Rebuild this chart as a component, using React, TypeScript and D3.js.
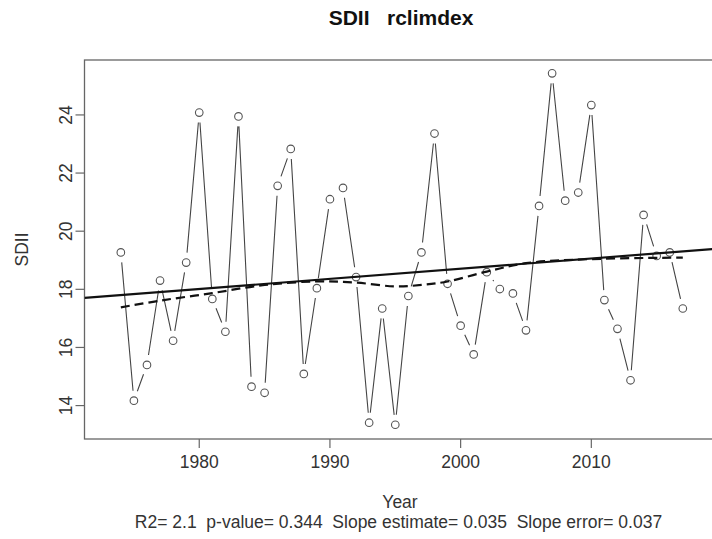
import React from "react";
import * as d3 from "d3";

const years = d3.range(1974, 2018);
const sdii = [
  19.27, 14.17, 15.40, 18.30, 16.23, 18.92, 24.08, 17.67, 16.54, 23.95,
  14.65, 14.44, 21.56, 22.83, 15.09, 18.04, 21.10, 21.49, 18.42, 13.41,
  17.34, 13.34, 17.77, 19.27, 23.36, 18.19, 16.75, 15.76, 18.59, 18.01,
  17.86, 16.59, 20.87, 25.43, 21.05, 21.33, 24.34, 17.63, 16.64, 14.87,
  20.56, 19.15, 19.27, 17.34,
];
const lowessYears = [1974, 1977, 1981, 1985, 1989, 1992, 1995, 1997, 1999, 2002, 2005, 2010, 2017];
const lowessValues = [17.38, 17.61, 17.87, 18.15, 18.27, 18.23, 18.10, 18.15, 18.27, 18.61, 18.90, 19.04, 19.09];
const trendIntercept1974 = 17.80;
const trendSlope = 0.035;
const xTicks = [1980, 1990, 2000, 2010];
const yTicks = [14, 16, 18, 20, 22, 24];
const titleText = "SDII   rclimdex";
const statsText = "R2= 2.1  p-value= 0.344  Slope estimate= 0.035  Slope error= 0.037";

const W = 712, H = 539;
const L = 84.5, R = 716, T = 60, B = 439;
const FONT = "'Liberation Sans', Arial, Helvetica, sans-serif";
const FS = 17.5;

export default function App() {
  const x = d3.scaleLinear().domain([1971.22, 2019.54]).range([L, R]);
  const y = d3.scaleLinear().domain([12.85, 25.89]).range([B, T]);
  const pts = years.map((yr, i) => [x(yr), y(sdii[i])] as [number, number]);
  const gap = 10;
  const segs: string[] = [];
  for (let i = 0; i < pts.length - 1; i++) {
    const [x0, y0] = pts[i];
    const [x1, y1] = pts[i + 1];
    const dx = x1 - x0, dy = y1 - y0;
    const d = Math.hypot(dx, dy);
    if (d <= 2 * gap) continue;
    const ux = dx / d, uy = dy / d;
    segs.push(`M${x0 + ux * gap},${y0 + uy * gap}L${x1 - ux * gap},${y1 - uy * gap}`);
  }
  const lowessLine = d3
    .line<number>()
    .x((_, i) => x(lowessYears[i]))
    .y((v) => y(v))
    .curve(d3.curveCatmullRom)(lowessValues) as string;
  const xd = x.domain();
  const trend = (yr: number) => trendIntercept1974 + trendSlope * (yr - 1974);
  return (
    <svg width={W} height={H} style={{ position: "absolute", left: 0, top: 0, background: "#fff", whiteSpace: "pre" }} fontFamily={FONT}>
      <defs>
        <clipPath id="plotclip">
          <rect x={L} y={T} width={R - L} height={B - T} />
        </clipPath>
      </defs>
      <rect x={0} y={0} width={W} height={H} fill="#fff" />
      <text x={401} y={25} textAnchor="middle" fontWeight="bold" fontSize={21} fill="#111" xmlSpace="preserve" style={{ whiteSpace: "pre" }}>{titleText}</text>
      <rect x={L} y={T} width={R - L} height={B - T} fill="none" stroke="#666" strokeWidth={1.3} />
      {xTicks.map((t) => (
        <g key={t}>
          <line x1={x(t)} x2={x(t)} y1={B} y2={B + 9} stroke="#666" strokeWidth={1.2} />
          <text x={x(t)} y={B + 29} textAnchor="middle" fontSize={FS} fill="#333">{t}</text>
        </g>
      ))}
      {yTicks.map((t) => (
        <g key={t}>
          <line x1={L} x2={L - 9} y1={y(t)} y2={y(t)} stroke="#666" strokeWidth={1.2} />
          <text transform={`translate(${L - 12.5},${y(t)}) rotate(-90)`} textAnchor="middle" fontSize={FS} fill="#333">{t}</text>
        </g>
      ))}
      <text transform={`translate(27.5,${(T + B) / 2}) rotate(-90)`} textAnchor="middle" fontSize={FS} fill="#333">SDII</text>
      <text x={400} y={507.5} textAnchor="middle" fontSize={FS} fill="#333">Year</text>
      <text x={398.5} y={528} textAnchor="middle" fontSize={FS} fill="#333" xmlSpace="preserve" style={{ whiteSpace: "pre" }}>{statsText}</text>
      <g clipPath="url(#plotclip)">
        <path d={segs.join("")} fill="none" stroke="#444" strokeWidth={1.1} />
        {pts.map(([cx, cy], i) => (
          <circle key={i} cx={cx} cy={cy} r={3.8} fill="none" stroke="#555" strokeWidth={1.1} />
        ))}
        <line x1={x(xd[0])} x2={x(xd[1])} y1={y(trend(xd[0]))} y2={y(trend(xd[1]))} stroke="#111" strokeWidth={2.2} />
        <path d={lowessLine} fill="none" stroke="#111" strokeWidth={2.2} strokeDasharray="9,5" />
      </g>
    </svg>
  );
}
